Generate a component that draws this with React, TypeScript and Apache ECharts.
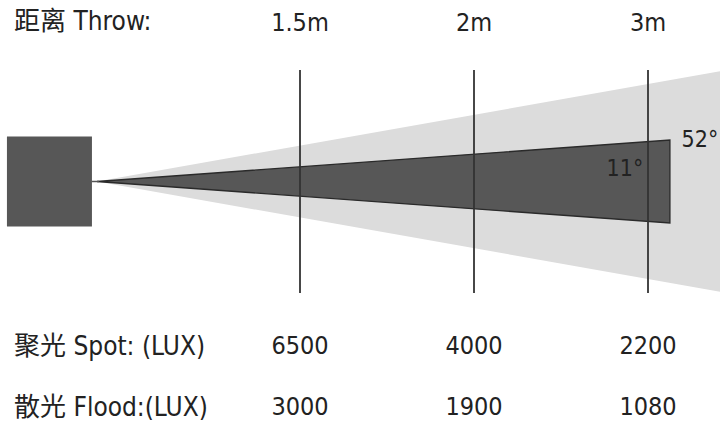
import React, { useEffect, useRef } from 'react';
import * as echarts from 'echarts';

const headerLabel = '距离 Throw:';
const throwDistances = ['1.5m', '2m', '3m'];
const rowLabels = ['聚光 Spot: (LUX)', '散光 Flood:(LUX)'];
const spotLux = [6500, 4000, 2200];
const floodLux = [3000, 1900, 1080];
const beamNames = ['Flood', 'Spot'];
const beamAngles = [52, 11];

const FONT = "'Liberation Sans Narrow', 'Arial Narrow', 'DejaVu Sans Condensed', 'Liberation Sans', 'Noto Sans CJK SC', sans-serif";
const TEXT = '#222222';
const FS = 26;
const FS_NUM = 25;

// schematic layout (in units of one throw-column step, relative to first column)
const APEX = -1.167;
const beamLayout: Record<string, any> = {
  Flood: { fill: '#dcdcdc', stroke: null, slope: 0.177, reach: 2.7, labelDx: 30, labelDy: -43, labelSize: 23 },
  Spot: { fill: '#575757', stroke: '#2a2a2a', slope: 0.0724, reach: 2.126, labelDx: -45, labelDy: -14, labelSize: 23 },
};

export default function App() {
  const ref = useRef<HTMLDivElement>(null);
  useEffect(() => {
    const chart = echarts.init(ref.current!, null, { renderer: 'svg' });

    const geo = (api: any) => {
      const p0 = api.coord([0, 0]);
      const p1 = api.coord([1, 0]);
      const step = p1[0] - p0[0];
      return { x0: p0[0], cy: p0[1], step, apexX: p0[0] + APEX * step };
    };

    chart.setOption({
      animation: false,
      backgroundColor: '#ffffff',
      title: {
        text: headerLabel,
        left: 14,
        top: 8,
        padding: 0,
        textStyle: { fontSize: FS, fontWeight: 'normal', color: TEXT, fontFamily: FONT },
      },
      grid: [
        { left: 300, right: 72, top: 70, bottom: 144 },
        { left: 300, right: 72, top: 315, height: 130 },
      ],
      xAxis: [
        {
          gridIndex: 0,
          type: 'category',
          data: throwDistances,
          boundaryGap: false,
          position: 'top',
          axisLine: { show: false },
          axisTick: { show: false },
          splitLine: { show: false },
          axisLabel: { show: true, margin: 35, fontSize: FS_NUM, color: TEXT, fontFamily: FONT },
        },
        {
          gridIndex: 1,
          type: 'category',
          data: throwDistances,
          boundaryGap: false,
          show: false,
        },
      ],
      yAxis: [
        { gridIndex: 0, type: 'value', min: -1, max: 1, show: false },
        {
          gridIndex: 1,
          type: 'category',
          data: rowLabels,
          inverse: true,
          axisLine: { show: false },
          axisTick: { show: false },
          splitLine: { show: false },
          axisLabel: { show: true, align: 'left', margin: 286, fontSize: FS, color: TEXT, fontFamily: FONT },
        },
      ],
      series: [
        {
          type: 'custom',
          name: 'beams',
          xAxisIndex: 0,
          yAxisIndex: 0,
          clip: false,
          z: 1,
          data: beamAngles.map((a, i) => [i, 0, a]),
          renderItem: (params: any, api: any) => {
            const name = beamNames[params.dataIndex];
            const L = beamLayout[name];
            const g = geo(api);
            const endX = g.x0 + L.reach * g.step;
            const half = L.slope * (endX - g.apexX);
            const specX = g.x0 + beamLayout.Spot.reach * g.step;
            return {
              type: 'group',
              children: [
                {
                  type: 'polygon',
                  shape: { points: [[g.apexX, g.cy], [endX, g.cy - half], [endX, g.cy + half]] },
                  style: L.stroke
                    ? { fill: L.fill, stroke: L.stroke, lineWidth: 1.3 }
                    : { fill: L.fill },
                },
                {
                  type: 'text',
                  z2: 10,
                  style: {
                    text: api.value(2) + '°',
                    x: specX + L.labelDx,
                    y: g.cy + L.labelDy,
                    fill: TEXT,
                    fontSize: L.labelSize,
                    fontFamily: FONT,
                    align: 'center',
                    verticalAlign: 'middle',
                  },
                },
              ],
            };
          },
        },
        {
          type: 'custom',
          name: 'fixture',
          xAxisIndex: 0,
          yAxisIndex: 0,
          clip: false,
          z: 2,
          data: [[0, 0]],
          renderItem: (params: any, api: any) => {
            const g = geo(api);
            const boxRight = g.apexX - 5;
            return {
              type: 'group',
              children: [
                { type: 'rect', shape: { x: boxRight - 85, y: g.cy - 45, width: 85, height: 90 }, style: { fill: '#575757' } },
                { type: 'line', shape: { x1: boxRight, y1: g.cy, x2: g.apexX + 2, y2: g.cy }, style: { stroke: '#555555', lineWidth: 1.5 } },
              ],
            };
          },
        },
        {
          type: 'custom',
          name: 'throwLines',
          xAxisIndex: 0,
          yAxisIndex: 0,
          clip: false,
          z: 3,
          data: throwDistances.map((t, i) => [i, 0]),
          renderItem: (params: any, api: any) => {
            const top = api.coord([api.value(0), 1]);
            const bot = api.coord([api.value(0), -1]);
            return {
              type: 'line',
              shape: { x1: top[0], y1: top[1], x2: bot[0], y2: bot[1] },
              style: { stroke: '#333333', lineWidth: 1.8 },
            };
          },
        },
        ...[spotLux, floodLux].map((vals, r) => ({
          type: 'scatter',
          name: rowLabels[r],
          xAxisIndex: 1,
          yAxisIndex: 1,
          symbolSize: 1,
          itemStyle: { color: 'rgba(0,0,0,0)', opacity: 1 },
          data: vals.map((v, i) => [i, r, v]),
          label: {
            show: true,
            position: 'inside',
            formatter: (p: any) => String(p.value[2]),
            fontSize: FS_NUM,
            color: TEXT,
            opacity: 1,
            fontFamily: FONT,
          },
        })),
      ],
    });
    return () => chart.dispose();
  }, []);
  return <div ref={ref} style={{ position: 'fixed', left: 0, top: 0, width: 720, height: 437 }} />;
}
